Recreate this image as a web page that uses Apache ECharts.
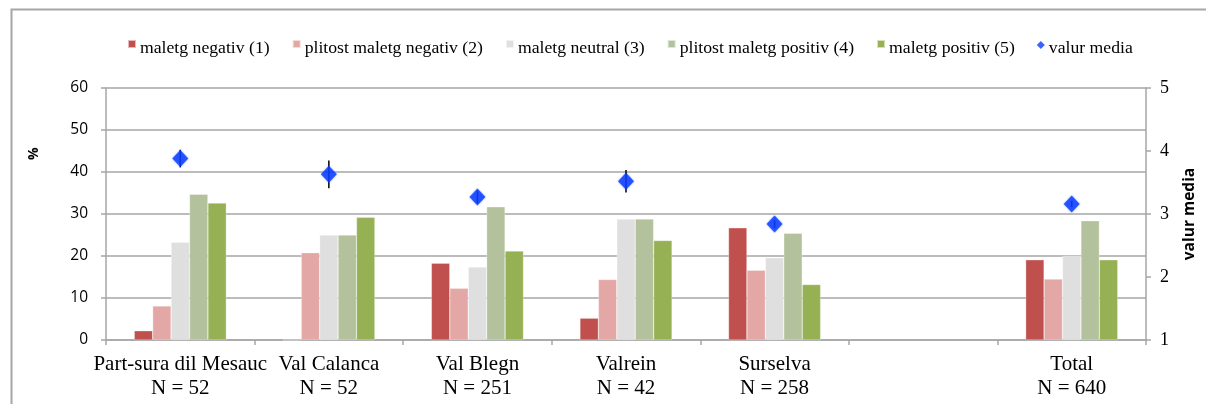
<!DOCTYPE html>
<html>
<head>
<meta charset="utf-8">
<script src="https://cdn.jsdelivr.net/npm/echarts@6/dist/echarts.min.js"></script>
<style>html,body{margin:0;padding:0;background:#fff;}#c{width:1206px;height:404px;}</style>
</head>
<body>
<div id="c"></div>
<script>
const categories = ['Part-sura dil Mesauc\nN = 52', 'Val Calanca\nN = 52', 'Val Blegn\nN = 251', 'Valrein\nN = 42', 'Surselva\nN = 258', '', 'Total\nN = 640'];
const seriesNames = ['maletg negativ (1)', 'plitost maletg negativ (2)', 'maletg neutral (3)', 'plitost maletg positiv (4)', 'maletg positiv (5)'];
const neg1 = [2.2, 0, 18.3, 5.2, 26.7, '-', 19.1];
const neg2 = [8.1, 20.8, 12.3, 14.4, 16.6, '-', 14.5];
const neutral3 = [23.3, 25.0, 17.4, 28.8, 19.6, '-', 20.0];
const pos4 = [34.7, 25.0, 31.7, 28.8, 25.4, '-', 28.4];
const pos5 = [32.6, 29.2, 21.2, 23.7, 13.2, '-', 19.1];
const meanValues = [3.88, 3.63, 3.27, 3.52, 2.84, '-', 3.16];
const meanErrors = [0.14, 0.22, 0.1, 0.18, 0.06, '-', 0.05];
const leftTicks = { min: 0, max: 60, interval: 10 };
const rightTicks = { min: 1, max: 5, interval: 1 };

const colors = ['#C0504D', '#E3A8A6', '#DFDFDF', '#B3C29C', '#95B154'];
const barData = [neg1, neg2, neutral3, pos4, pos5];
const gray = '#A6A6A6';

const chart = echarts.init(document.getElementById('c'), null, { renderer: 'canvas' });

const series = barData.map((d, i) => ({
  name: seriesNames[i],
  type: 'bar',
  data: d,
  yAxisIndex: 0,
  barGap: '0%',
  barCategoryGap: '38%',
  itemStyle: { color: colors[i], borderColor: 'rgba(255,255,255,0.6)', borderWidth: 0.5 },
  z: 2
}));

series.push({
  name: 'errors',
  type: 'custom',
  yAxisIndex: 1,
  z: 3,
  data: meanValues.map((m, i) => (m === '-' ? ['-', '-', '-'] : [i, m - meanErrors[i], m + meanErrors[i]])),
  renderItem: function (params, api) {
    const lo = api.coord([api.value(0), api.value(1)]);
    const hi = api.coord([api.value(0), api.value(2)]);
    return {
      type: 'line',
      shape: { x1: lo[0], y1: lo[1], x2: hi[0], y2: hi[1] },
      style: { stroke: '#000', lineWidth: 1.5 }
    };
  },
  encode: { x: 0, y: [1, 2] },
  silent: true
});

series.push({
  name: 'valur media',
  type: 'scatter',
  yAxisIndex: 1,
  symbol: 'diamond',
  symbolSize: [16, 17],
  data: meanValues,
  itemStyle: { color: '#0A3CFF', shadowBlur: 2, shadowColor: 'rgba(10,60,255,0.6)' },
  z: 5
});

const rectIcon = 'path://M0,0L8,0L8,8L0,8Z M8,16L8,16';
const diamondIcon = 'path://M4.5,0L9,4.5L4.5,9L0,4.5Z M9,16L9,16';

chart.setOption({
  animation: false,
  backgroundColor: '#fff',
  textStyle: { fontFamily: 'Liberation Serif' },
  graphic: [
    { type: 'rect', left: 9, top: 7, z: -10, shape: { width: 1400, height: 600 }, style: { fill: 'none', stroke: gray, lineWidth: 2 } },
    { type: 'text', x: 27, y: 160, rotation: Math.PI / 2, style: { text: '%', font: 'bold 14px "Open Sans"', fill: '#000' } }
  ],
  legend: {
    left: 122,
    top: 34,
    itemWidth: 8,
    itemHeight: 16,
    itemGap: 22,
    textStyle: { fontFamily: 'Liberation Serif', fontSize: 17.7, color: '#000', padding: [0, 0, 0, -1] },
    data: seriesNames.map((n) => ({ name: n, icon: rectIcon })).concat([{ name: 'valur media', icon: diamondIcon, itemStyle: { color: '#0A3CFF', shadowBlur: 0 } }])
  },
  grid: { left: 106, right: 55, top: 88, bottom: 64, containLabel: false },
  xAxis: {
    type: 'category',
    data: categories,
    axisLine: { lineStyle: { color: gray, width: 1.5 } },
    axisTick: { show: true, length: 5, lineStyle: { color: gray, width: 1.5 } },
    axisLabel: { interval: 0, color: '#000', fontFamily: 'Liberation Serif', fontSize: 21, lineHeight: 24, margin: 12 }
  },
  yAxis: [
    {
      type: 'value', min: leftTicks.min, max: leftTicks.max, interval: leftTicks.interval,
      axisLine: { show: true, lineStyle: { color: gray, width: 1.5 } },
      axisTick: { show: true, length: 5, lineStyle: { color: gray, width: 1.5 } },
      splitLine: { lineStyle: { color: gray, width: 1.5 } },
      axisLabel: { color: '#000', fontFamily: 'Open Sans', fontSize: 15.5, margin: 18 }
    },
    {
      type: 'value', min: rightTicks.min, max: rightTicks.max, interval: rightTicks.interval,
      position: 'right',
      axisLine: { show: true, lineStyle: { color: gray, width: 1.5 } },
      axisTick: { show: true, length: 5, lineStyle: { color: gray, width: 1.5 } },
      splitLine: { show: false },
      axisLabel: { color: '#000', fontFamily: 'Liberation Serif', fontSize: 18, margin: 14 },
      name: 'valur media',
      nameLocation: 'middle',
      nameRotate: 90,
      nameGap: 36,
      nameTextStyle: { fontFamily: 'Open Sans', fontWeight: 'bold', fontSize: 15.5, color: '#000' }
    }
  ],
  series: series
});
</script>
</body>
</html>
